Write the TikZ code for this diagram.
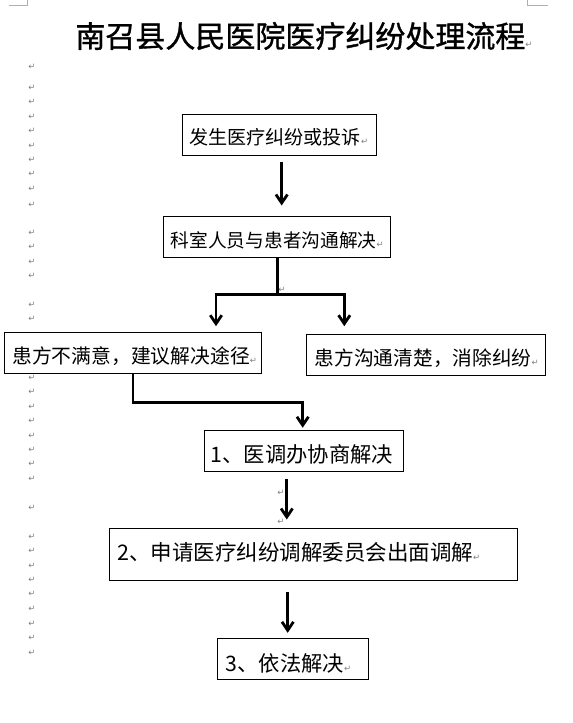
\documentclass[tikz,border=0pt]{standalone}
\usepackage{fontspec}
\setmainfont{Noto Sans CJK SC}
\newfontfamily\titlefont[FakeBold=1.2]{Noto Sans CJK SC}
\newfontfamily\dejavu{DejaVu Sans}
\usetikzlibrary{arrows.meta}
\definecolor{markgray}{RGB}{128,128,128}
\definecolor{cornergray}{RGB}{175,175,175}
\newcommand\parmark{{\dejavu\fontsize{8.5}{9}\selectfont\textcolor{markgray}{↵}}}
\tikzset{
  box/.style={draw, line width=1pt, rectangle, inner sep=0pt},
  lbl/.style={anchor=west, inner sep=0pt},
  pmk/.style={inner sep=0pt, font=\dejavu\fontsize{8.5}{9}\selectfont, text=markgray},
  conn/.style={line width=2.8pt},
  arr/.style={line width=2.8pt, -{Straight Barb[length=8.5pt,width=11.5pt]}},
  corner/.style={draw=cornergray, line width=0.8pt}
}
\begin{document}
\begin{tikzpicture}[x=1pt,y=-1pt]
\useasboundingbox (0,0) rectangle (573,723);
\fill[white] (0,0) rectangle (573,723);
% page corner marks
\draw[corner] (9,5) -- (27.5,5) -- (27.5,0);
\draw[corner] (527,0) -- (527,5) -- (548,5);
% title
\node[lbl, font=\titlefont\fontsize{30}{36}\selectfont] (title) at (75.2,36) {南召县人民医院医疗纠纷处理流程\parmark};
% left paragraph marks
\foreach \yy [count=\i] in {66.7,88.3,101.7,116.7,131,145.7,160,174,189,205,232.7,246.7,261.7,276,305,319.3,378.3,392,406.7,421,435.7,450,464.3,479,507.7,536.7,551,565.7,580,594.3,609,624,638.3,653.3}
  \node[pmk] (m\i) at (32,\yy) {↵};
% boxes
\node[box, minimum width=194pt, minimum height=41pt] (b1) at (279,134.8) {};
\node[box, minimum width=227pt, minimum height=40.8pt] (b2) at (277.3,236.9) {};
\node[box, minimum width=257.4pt, minimum height=41pt] (b3) at (133,352.8) {};
\node[box, minimum width=239.6pt, minimum height=41pt] (b4) at (426,354.8) {};
\node[box, minimum width=199.3pt, minimum height=41.3pt] (b5) at (303.7,451.3) {};
\node[box, minimum width=408pt, minimum height=52pt] (b6) at (313.3,554.3) {};
\node[box, minimum width=151pt, minimum height=41pt] (b7) at (292.8,658.8) {};
% texts
\node[lbl, font=\fontsize{19.1}{22}\selectfont] (t1) at (188.9,137.5) {发生医疗纠纷或投诉\parmark};
\node[lbl, font=\fontsize{18.7}{22}\selectfont] (t2) at (170.6,240.5) {科室人员与患者沟通解决\parmark};
\node[lbl, font=\fontsize{19.8}{22}\selectfont] (t3) at (12.1,356.3) {患方不满意，建议解决途径\parmark};
\node[lbl, font=\fontsize{19.7}{22}\selectfont] (t4) at (314.6,358.3) {患方沟通清楚，消除纠纷\parmark};
\node[lbl, font=\fontsize{21.3}{24}\selectfont] (t5) at (210.5,454.7) {1、医调办协商解决};
\node[lbl, font=\fontsize{21.5}{24}\selectfont] (t6) at (117,552.2) {2、申请医疗纠纷调解委员会出面调解\parmark};
\node[lbl, font=\fontsize{21.3}{24}\selectfont] (t7) at (225.5,663) {3、依法解决\parmark};
% small marks near connectors
\node[pmk] (s1) at (282,290) {↵};
\node[pmk] (s2) at (281,493) {↵};
\node[pmk] (s3) at (281,522) {↵};
% connectors
\draw[arr] ([xshift=2.7pt,yshift=-6.4pt]b1.south) -- ([xshift=4.4pt,yshift=10.5pt]b2.north);
\draw[conn] (b2.south) -- ([yshift=-37pt]b2.south) coordinate (split);
\draw[arr] (split) -| ([xshift=83pt,yshift=5.6pt]b3.north);
\draw[arr] (split) -| ([xshift=-81.7pt,yshift=7.6pt]b4.north);
\draw[arr] (b3.south) -- ++(0,28.4) -| ([xshift=-1pt,yshift=2.4pt]b5.north);
\draw[arr] ([xshift=-16.9pt,yshift=-7pt]b5.south) -- ([xshift=-26.5pt,yshift=8.3pt]b6.north);
\draw[arr] ([xshift=-25.6pt,yshift=-11.4pt]b6.south) -- ([xshift=-5.1pt,yshift=5pt]b7.north);
\end{tikzpicture}
\end{document}
